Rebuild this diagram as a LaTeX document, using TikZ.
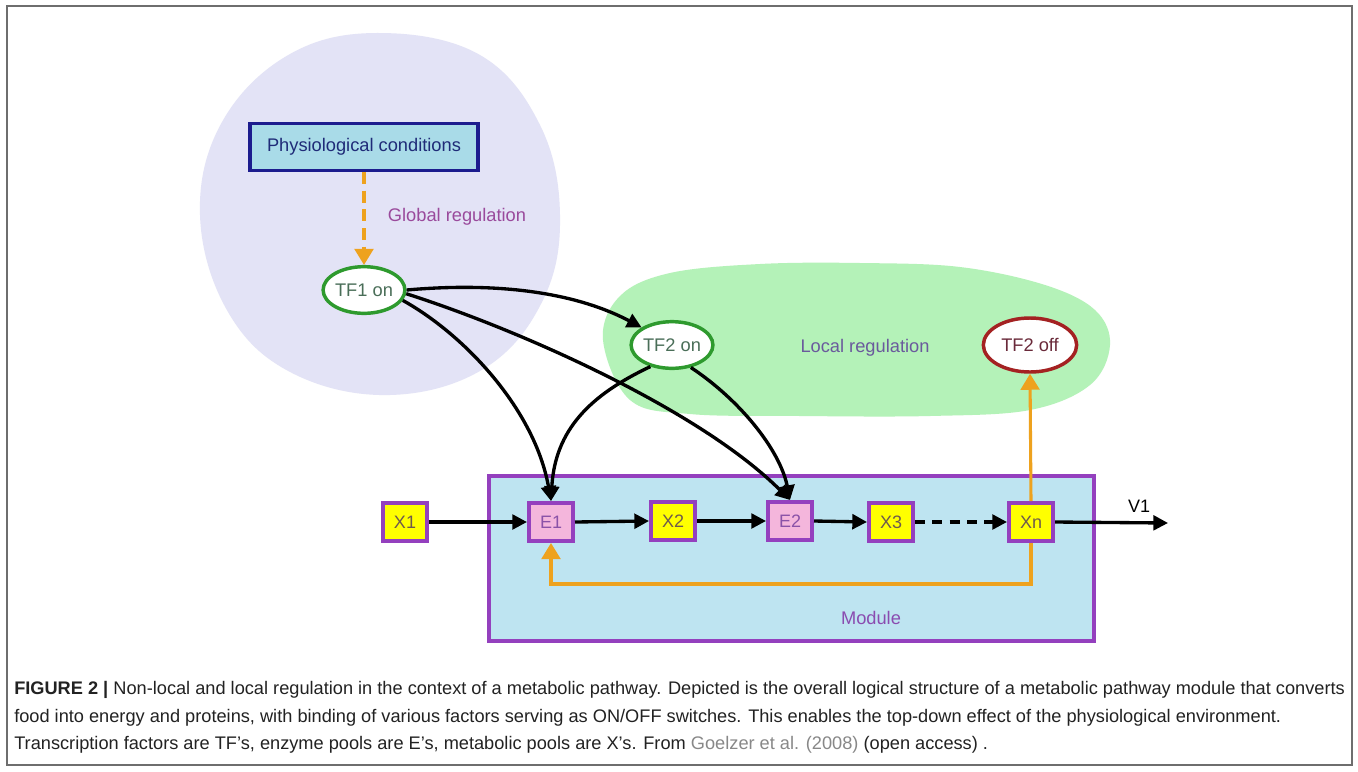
\documentclass[tikz,border=0pt]{standalone}
\usepackage{fontspec}
\setmainfont{Liberation Sans}
\usetikzlibrary{shapes.geometric,arrows.meta,calc}
\definecolor{framegray}{HTML}{6E6E6E}
\definecolor{lav}{HTML}{E3E3F6}
\definecolor{grn}{HTML}{B4F2B8}
\definecolor{physfill}{HTML}{A9DBE8}
\definecolor{physdraw}{HTML}{1C1C8E}
\definecolor{phystext}{HTML}{1F2B78}
\definecolor{modfill}{HTML}{BEE4F1}
\definecolor{purp}{HTML}{9440BE}
\definecolor{xfill}{HTML}{FFFF00}
\definecolor{efill}{HTML}{F4B6DC}
\definecolor{xtext}{HTML}{6E5A4E}
\definecolor{etext}{HTML}{8A52A8}
\definecolor{modtxt}{HTML}{8A4CB0}
\definecolor{globtxt}{HTML}{9A4A9C}
\definecolor{loctxt}{HTML}{6A5A9C}
\definecolor{tfgreen}{HTML}{2E9A2E}
\definecolor{tftext}{HTML}{4A6E58}
\definecolor{tfred}{HTML}{A42222}
\definecolor{tfredtext}{HTML}{6A2A3A}
\definecolor{orng}{HTML}{EEA21E}
\definecolor{capgray}{HTML}{888888}
\definecolor{captext}{HTML}{222222}
\tikzset{
  txt/.style={font=\fontsize{13.7}{16}\selectfont, inner sep=0pt},
  boxlbl/.style={font=\fontsize{13.5}{15}\selectfont},
  xbox/.style={rectangle, draw=purp, fill=xfill, line width=3pt, minimum width=33pt, minimum height=28.5pt, inner sep=0pt, boxlbl, text=xtext},
  ebox/.style={xbox, fill=efill, text=etext},
  tfon/.style={ellipse, draw=tfgreen, fill=white, line width=2.6pt, minimum width=60pt, minimum height=35pt, inner sep=0pt, txt, text=tftext},
  blk/.style={draw=black, line width=2.5pt, -{Triangle[length=11pt,width=11pt]}},
  orarrow/.style={draw=orng, line width=2.3pt, -{Triangle[length=12pt,width=14pt]}},
  captxt/.style={anchor=west, inner sep=0pt, font=\fontsize{13.65}{16}\selectfont, text=captext}
}
\begin{document}
\begin{tikzpicture}[x=0.75pt,y=-0.75pt]
\useasboundingbox (0,0) rectangle (1358,771);
\fill[white] (0,0) rectangle (1358,771);
\draw[framegray, line width=1.3pt] (7,6) rectangle (1352,765);

% regions
\fill[lav] plot[smooth cycle, tension=0.65] coordinates {(380,33) (480,55) (540,125) (560,215) (543,300) (485,368) (390,395) (292,373) (228,312) (200,215) (222,122) (290,54)};
\fill[grn] plot[smooth cycle, tension=0.6] coordinates {(603,340) (620,296) (670,273) (760,264) (860,263) (960,267) (1045,285) (1095,310) (1110,345) (1090,385) (1030,410) (930,416) (800,416) (690,414) (630,400)};

% module
\node[rectangle, draw=purp, fill=modfill, line width=3pt, minimum width=454pt, minimum height=124pt, inner sep=0pt] (module) at (791.5,558.5) {};
\node[txt, text=modtxt] (modlabel) at (871,618) {Module};

% upper nodes
\node[rectangle, draw=physdraw, fill=physfill, line width=2.6pt, minimum width=171pt, minimum height=35pt, inner sep=0pt, txt, text=phystext] (phys) at (364,147) {Physiological conditions};
\node[txt, text=globtxt] (glob) at (457,217) {Global regulation};
\node[tfon] (tf1) at (364,290) {TF1 on};
\node[tfon] (tf2on) at (672,345) {TF2 on};
\node[txt, text=loctxt] (loc) at (865,348) {Local regulation};
\node[tfon, draw=tfred, text=tfredtext, minimum width=70pt, minimum height=40.5pt] (tf2off) at (1030,345) {TF2 off};

% pathway
\node[xbox] (x1) at (405,522) {X1};
\node[ebox] (e1) at (551,522) {E1};
\node[xbox] (x2) at (673,521) {X2};
\node[ebox] (e2) at (790,521) {E2};
\node[xbox] (x3) at (891,522) {X3};
\node[xbox] (xn) at (1031,522) {Xn};
\coordinate (v1end) at (1168,523);
\node[boxlbl, inner sep=0pt] (v1) at (1139,506) {V1};

\draw[blk] (x1.east) -- (e1.west);
\draw[blk] (e1.east) -- (x2.west);
\draw[blk] (x2.east) -- (e2.west);
\draw[blk] (e2.east) -- (x3.west);
\draw[blk, dash pattern=on 7.5pt off 5.5pt] (x3.east) -- (xn.west);
\draw[blk] (xn.east) -- (v1end);

% orange
\draw[orarrow, dash pattern=on 9pt off 5pt] (phys.south) -- (tf1.north);
\draw[orarrow] (xn.north) -- (tf2off.south);
\draw[orarrow] (xn.south) -- ++(0,41) -| (e1.south);

% regulation curves
\draw[blk] (tf1.east) .. controls (520,280) and (590,300) .. (tf2on.150);
\draw[blk] (tf1.-5) .. controls (520,330) and (700,410) .. (e2.north);
\draw[blk] (tf1.-15) .. controls (465,335) and (535,410) .. (e1.north);
\draw[blk] (tf2on.225) .. controls (590,395) and (555,430) .. (e1.north);
\draw[blk] (tf2on.-50) .. controls (740,400) and (780,450) .. (e2.north);

% caption
\node[captxt] (cap1) at (14,690) {\textbf{FIGURE 2 |} Non-local and local regulation in the context of a metabolic pathway. Depicted is the overall logical structure of a metabolic pathway module that converts};
\node[captxt] (cap2) at (14,718) {food into energy and proteins, with binding of various factors serving as ON/OFF switches. This enables the top-down effect of the physiological environment.};
\node[captxt] (cap3) at (14,745) {Transcription factors are TF’s, enzyme pools are E’s, metabolic pools are X’s. From \textcolor{capgray}{Goelzer et al. (2008)} (open access) .};
\end{tikzpicture}
\end{document}
